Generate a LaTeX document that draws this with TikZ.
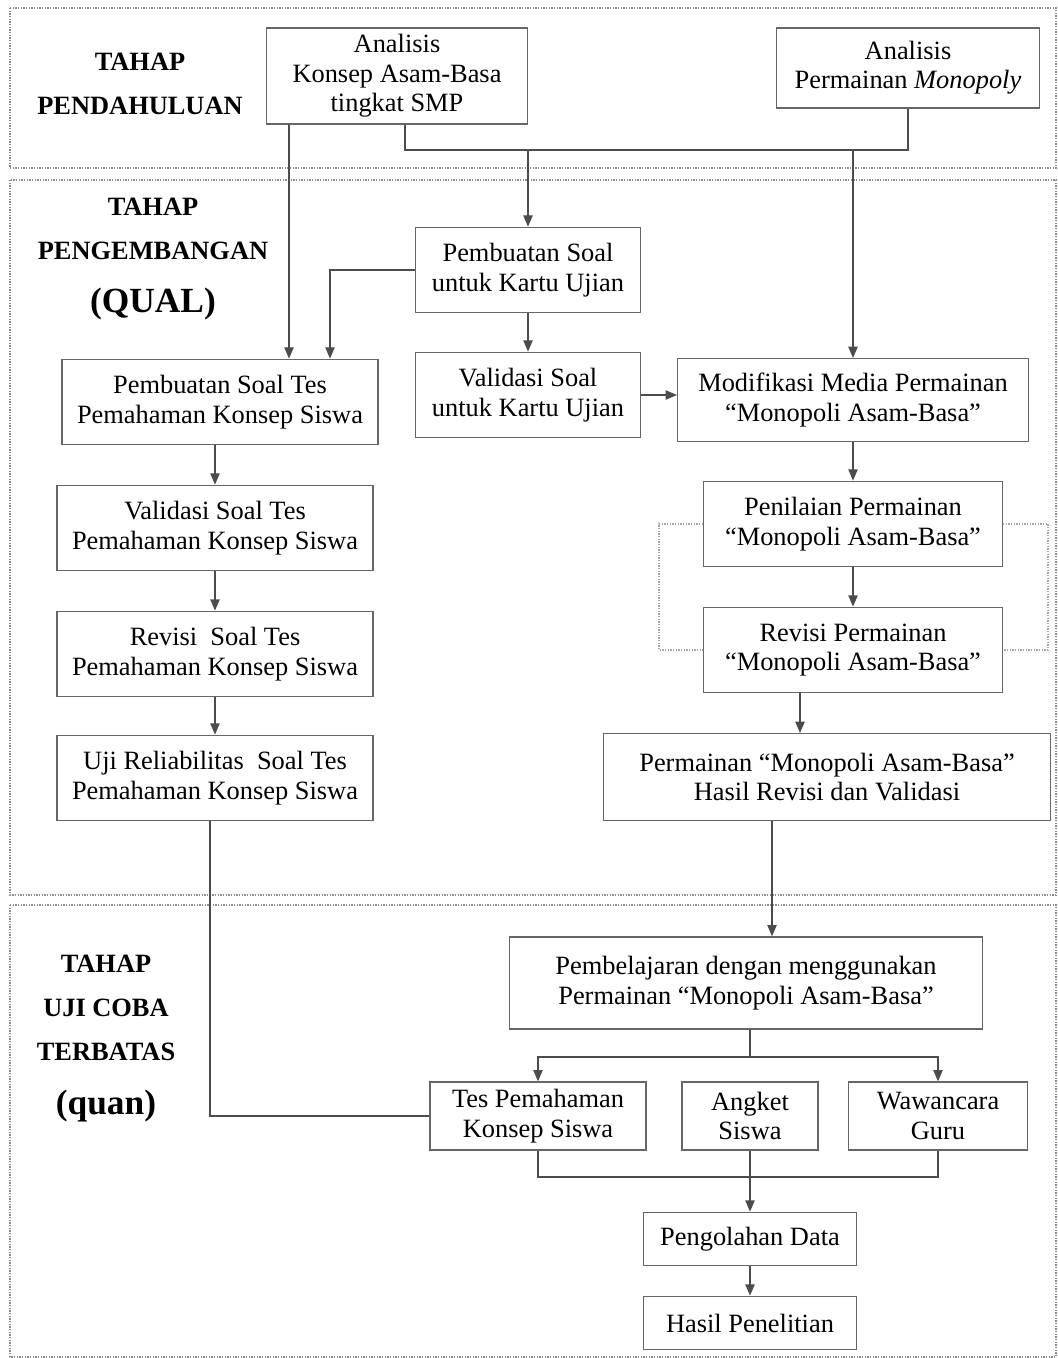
\documentclass[tikz,border=0pt]{standalone}
\usepackage{fontspec}
\setmainfont{Liberation Serif}
\usetikzlibrary{arrows.meta}

\tikzstyle{box}=[draw=black!60,line width=1pt,align=center,inner sep=2pt,font=\fontsize{19.8}{22}\selectfont]
\tikzstyle{stage}=[align=center,font=\bfseries\fontsize{19.8}{33}\selectfont]
\tikzstyle{stagebig}=[font=\bfseries\fontsize{26.5}{28}\selectfont]
\tikzstyle{conn}=[draw=black!70,line width=1pt]
\tikzstyle{conarrow}=[conn,-{Triangle[length=8.5pt,width=7pt]}]
\tikzstyle{stageframe}=[draw=black!45,line width=1pt,densely dotted]
\tikzstyle{feedback}=[draw=black!35,line width=1pt,densely dotted]
\newcommand{\px}{0.75pt}

\begin{document}
\begin{tikzpicture}[x=\px, y=-\px]
    \useasboundingbox (0,0) rectangle (1057,1358);
    % First the three stages
    \draw[stageframe] (10,8) rectangle (1056,168);
    \draw[stageframe] (10,180) rectangle (1056,895);
    \draw[stageframe] (10,905) rectangle (1056,1357);
    \node[stage] (s1) at (140,84) {TAHAP\\PENDAHULUAN};
    \node[stage] (s2) at (153,229) {TAHAP\\PENGEMBANGAN};
    \node[stagebig] (s2b) at (153,304) {(QUAL)};
    \node[stage] (s3) at (106,1008) {TAHAP\\UJI COBA\\TERBATAS};
    \node[stagebig] (s3b) at (106,1106) {(quan)};

    % Then the boxes
    \node[box, minimum width=196pt, minimum height=72pt] (A1) at (397,76) {Analisis\\Konsep Asam-Basa\\tingkat SMP};
    \node[box, minimum width=197pt, minimum height=60pt] (A2) at (908,68) {Analisis\\Permainan \textit{Monopoly}};
    \node[box, minimum width=169pt, minimum height=64pt] (B1) at (528,270) {Pembuatan Soal\\untuk Kartu Ujian};
    \node[box, minimum width=169pt, minimum height=64pt] (B2) at (528,395) {Validasi Soal\\untuk Kartu Ujian};
    \node[box, minimum width=263pt, minimum height=62pt] (Mod) at (853,400) {Modifikasi Media Permainan\\“Monopoli Asam-Basa”};
    \node[box, minimum width=224pt, minimum height=64pt] (Pen) at (853,524) {Penilaian Permainan\\“Monopoli Asam-Basa”};
    \node[box, minimum width=224pt, minimum height=64pt] (Rev) at (853,650) {Revisi Permainan\\“Monopoli Asam-Basa”};
    \node[box, minimum width=335pt, minimum height=65pt] (HR) at (827,777) {Permainan “Monopoli Asam-Basa”\\Hasil Revisi dan Validasi};
    \node[box, minimum width=237pt, minimum height=64pt] (C1) at (220,402) {Pembuatan Soal Tes\\Pemahaman Konsep Siswa};
    \node[box, minimum width=237pt, minimum height=64pt] (C2) at (215,528) {Validasi Soal Tes\\Pemahaman Konsep Siswa};
    \node[box, minimum width=237pt, minimum height=64pt] (C3) at (215,654) {Revisi\ \ Soal Tes\\Pemahaman Konsep Siswa};
    \node[box, minimum width=237pt, minimum height=64pt] (C4) at (215,778) {Uji Reliabilitas\ \ Soal Tes\\Pemahaman Konsep Siswa};
    \node[box, minimum width=355pt, minimum height=69pt] (Pemb) at (746,983) {Pembelajaran dengan menggunakan\\Permainan “Monopoli Asam-Basa”};
    \node[box, minimum width=162pt, minimum height=51pt] (T1) at (538,1116) {Tes Pemahaman\\Konsep Siswa};
    \node[box, minimum width=102pt, minimum height=51pt] (T2) at (750,1116) {Angket\\Siswa};
    \node[box, minimum width=134pt, minimum height=51pt] (T3) at (938,1116) {Wawancara\\Guru};
    \node[box, minimum width=160pt, minimum height=40pt] (PD) at (750,1239) {Pengolahan Data};
    \node[box, minimum width=160pt, minimum height=40pt] (HP) at (750,1323) {Hasil Penelitian};

    % Junction points of the connectors
    \coordinate (jA) at (405,150);
    \coordinate (jB) at (289,0);
    \coordinate (jC) at (330,0);
    \coordinate (jD) at (800,0);
    \coordinate (jE) at (750,1057);
    \coordinate (jF) at (750,1177);
    \coordinate (jG) at (210,0);
    \coordinate (jH) at (772,0);

    % Connect the boxes
    \path[conn] (A1.south -| jA) -- (jA) -| (A2.south);
    \path[conarrow] (B1.north |- jA) -- (B1.north);
    \path[conarrow] (Mod.north |- jA) -- (Mod.north);
    \path[conarrow] (A1.south -| jB) -- (C1.north -| jB);
    \path[conarrow] (B1.west) -| (C1.north -| jC);
    \foreach \source/\dest in {B1/B2, Mod/Pen, Pen/Rev, C1/C2, C2/C3, C3/C4, T2/PD, PD/HP}
        \path[conarrow] (\source.south -| \dest.north) -- (\dest.north);
    \path[conarrow] (B2.east) -- (Mod.west |- B2.east);
    \path[feedback] (Pen.west) -- ++(-44,0) |- (Rev.west);
    \path[feedback] (Pen.east) -- ++(45,0) |- (Rev.east);
    \path[conarrow] (Rev.south -| jD) -- (HR.north -| jD);
    \path[conarrow] (HR.south -| jH) -- (Pemb.north -| jH);
    \path[conn] (Pemb.south -| jE) -- (jE);
    \path[conarrow] (jE) -| (T1.north);
    \path[conarrow] (jE) -| (T3.north);
    \path[conn] (T1.south) |- (jF) -| (T3.south);
    \path[conn] (C4.south -| jG) |- (T1.west);
\end{tikzpicture}
\end{document}
